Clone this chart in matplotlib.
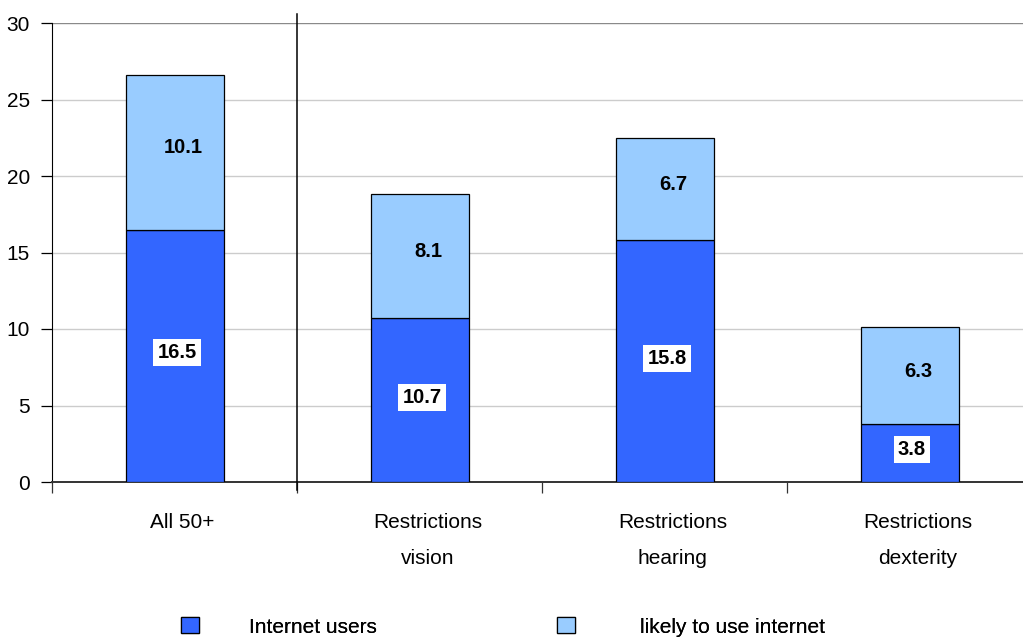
import matplotlib
matplotlib.use("Agg")
import matplotlib.pyplot as plt
import matplotlib.transforms as mtransforms
from matplotlib.patches import Patch

plt.rcParams['font.family'] = ['Liberation Sans', 'DejaVu Sans']

categories = ["All 50+", "Restrictions\nvision", "Restrictions\nhearing", "Restrictions\ndexterity"]
internet_users = [16.5, 10.7, 15.8, 3.8]
likely_to_use = [10.1, 8.1, 6.7, 6.3]
series_names = ["Internet users", "likely to use internet"]
y_ticks = [0, 5, 10, 15, 20, 25, 30]

dark = "#3366FF"
light = "#99CCFF"
FS = 15

fig = plt.figure(figsize=(10.23, 6.40), dpi=100)
ax = fig.add_axes([52 / 1023, 1 - 482 / 640, 980 / 1023, 459 / 640])

x = list(range(len(categories)))
w = 0.4
ax.bar(x, internet_users, width=w, color=dark, edgecolor="black", linewidth=0.9, zorder=3)
ax.bar(x, likely_to_use, width=w, bottom=internet_users, color=light,
       edgecolor="black", linewidth=0.9, zorder=3)

for xi, lo, hi in zip(x, internet_users, likely_to_use):
    ax.text(xi + 0.01, lo / 2 + 0.2, f"{lo:.1f}", ha="center", va="center",
            fontsize=14.5, fontweight="bold", zorder=5,
            bbox=dict(boxstyle="square,pad=0.2", fc="white", ec="none"))
    ax.text(xi + 0.035, lo + hi / 2 + 0.3, f"{hi:.1f}", ha="center", va="center",
            fontsize=14.5, fontweight="bold", zorder=5)

ax.set_xlim(-0.5, len(categories) - 0.5)
ax.set_ylim(0, 30)
ax.set_yticks(y_ticks)
ax.set_yticklabels([str(t) for t in y_ticks], fontsize=FS)
for t in y_ticks[1:-1]:
    ax.axhline(t, color="#cccccc", linewidth=1.0, zorder=1)
ax.axhline(30, color="#8a8a8a", linewidth=1.0, zorder=1)

ax.set_xticks([i - 0.5 for i in range(len(categories))])
ax.set_xticklabels([])
ax.set_xticks(x, minor=True)
ax.set_xticklabels(categories, minor=True, fontsize=FS, linespacing=2.15)
ax.tick_params(axis="x", which="major", length=8, width=0.9, direction="out", color="#333333")
ax.tick_params(axis="x", which="minor", length=0, pad=22)
ax.tick_params(axis="y", length=8, width=0.9, pad=8)

# category names sit a little right of the bar centres
shift = mtransforms.ScaledTranslation(8 / 100, 0, fig.dpi_scale_trans)
for lab in ax.get_xticklabels(minor=True):
    lab.set_transform(lab.get_transform() + shift)

for s in ("top", "right"):
    ax.spines[s].set_visible(False)
ax.spines["left"].set_bounds(0, 30)
ax.spines["bottom"].set_color("#333333")
ax.spines["bottom"].set_linewidth(1.4)

# separator between the overall group and the restriction groups
ax.plot([0.5, 0.5], [-0.55, 30.6], color="black", linewidth=1.1, clip_on=False, zorder=4)

# one legend per series, placed side by side under the axis
colors = [dark, light]
anchors = [181 / 1023, 557 / 1023]
text_pads = [2.4, 3.1]
for name, col, ax_x, tp in zip(series_names, colors, anchors, text_pads):
    leg = fig.legend([Patch(facecolor=col, edgecolor="black", linewidth=0.9)], [name],
                     loc="center left", bbox_to_anchor=(ax_x, 1 - 627 / 640),
                     frameon=False, fontsize=FS, handlelength=0.87, handleheight=0.77,
                     handletextpad=tp, borderpad=0, borderaxespad=0)
    fig.add_artist(leg)

fig.savefig("out.png", dpi=100)
